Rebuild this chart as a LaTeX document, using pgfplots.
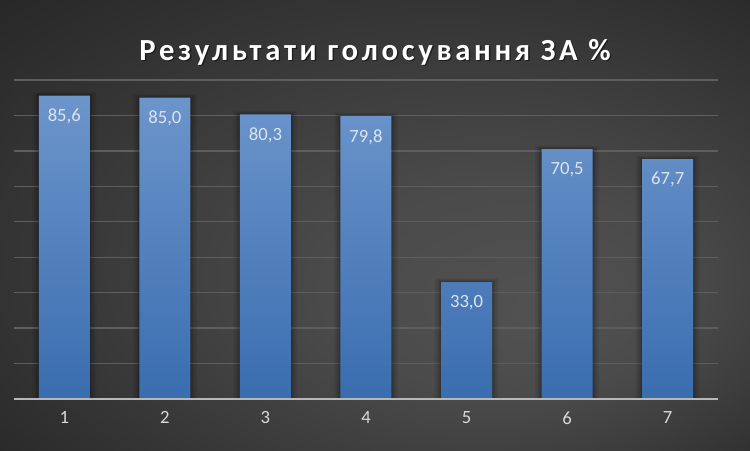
\documentclass[border=0pt]{standalone}
\usepackage{pgfplots}
\pgfplotsset{compat=1.18}
\usepackage{fontspec}
\setmainfont{Carlito}
\newfontfamily\titlefont[LetterSpace=12]{Carlito}
\definecolor{bgouter}{HTML}{1E1E1E}
\definecolor{bginner}{HTML}{525252}
\definecolor{gridc}{HTML}{5E5E5E}
\definecolor{bartop}{HTML}{6C95CB}
\definecolor{barbot}{HTML}{3A6DAF}
\definecolor{lblc}{HTML}{DCE3EE}
\definecolor{tickc}{HTML}{D9D9D9}
\begin{document}
\begin{tikzpicture}[x=1pt,y=1pt]
\pgfdeclareradialshading{bgshade}{\pgfpoint{12bp}{-10bp}}{color(0bp)=(bginner); color(12bp)=(bginner!85!bgouter); color(45bp)=(bgouter)}
\shade[shading=bgshade] (0,0) rectangle (562.5,337.5);
\node[text=black, opacity=0.5, font=\titlefont\bfseries\fontsize{23}{27}\selectfont] at (282.25,297.5) {Результати голосування ЗА \%};
\node[text=white, font=\titlefont\bfseries\fontsize{23}{27}\selectfont] at (281.25,298.5) {Результати голосування ЗА \%};
\begin{axis}[
  at={(10.5pt,38.25pt)}, anchor=origin,
  scale only axis, width=528pt, height=239.25pt,
  xmin=0.5, xmax=7.5, ymin=0, ymax=90,
  ytick={10,20,...,90}, yticklabels={},
  ymajorgrids, grid style={gridc, line width=1pt},
  major tick length=0pt,
  xtick={1,...,7},
  xticklabel style={text=tickc, font=\fontsize{14}{16}\selectfont, yshift=-6pt},
  /pgf/number format/assume math mode=true,
  axis line style={draw=none},
  ybar, bar shift=0pt,
  clip=false,
]
\addplot[draw=none, fill=black, fill opacity=0.06, bar width=48pt]
  coordinates {(1,86.6) (2,86.0) (3,81.3) (4,80.8) (5,34.0) (6,71.5) (7,68.7)};
\addplot[draw=none, fill=black, fill opacity=0.08, bar width=45pt]
  coordinates {(1,86.3) (2,85.7) (3,81.0) (4,80.5) (5,33.7) (6,71.2) (7,68.4)};
\addplot[draw=none, fill=black, fill opacity=0.10, bar width=42pt]
  coordinates {(1,86.0) (2,85.4) (3,80.7) (4,80.2) (5,33.4) (6,70.9) (7,68.1)};
\addplot[draw=none, fill=black, fill opacity=0.10, bar width=40pt]
  coordinates {(1,85.8) (2,85.2) (3,80.5) (4,80.0) (5,33.2) (6,70.7) (7,67.9)};
\addplot[draw=none, top color=bartop, bottom color=barbot, bar width=38.25pt,
  nodes near coords,
  nodes near coords style={text=lblc, font=\fontsize{14}{16}\selectfont, anchor=center, yshift=-15.5pt,
    /pgf/number format/.cd, fixed, fixed zerofill, precision=1, use comma, assume math mode=true}]
  coordinates {(1,85.6) (2,85.0) (3,80.3) (4,79.8) (5,33.0) (6,70.5) (7,67.7)};
\draw[tickc!85!black, line width=1.2pt] (axis cs:0.5,0) -- (axis cs:7.5,0);
\end{axis}
\end{tikzpicture}
\end{document}
